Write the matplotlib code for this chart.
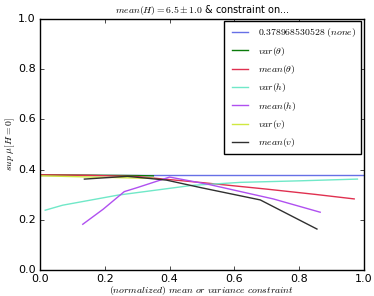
import matplotlib
matplotlib.use("Agg")
import matplotlib.pyplot as plt
import numpy as np

plt.style.use('classic')
plt.rcParams['figure.facecolor'] = 'white'
plt.rcParams['savefig.facecolor'] = 'white'
plt.rcParams['mathtext.fontset'] = 'cm'

none_value = 0.378968530528

# x = normalized constraint, y = sup mu[H=0]
none_x = [0.0, 1.0]
none_y = [none_value, none_value]

var_theta_x = [0.0, 0.1, 0.2, 0.3, 0.35]
var_theta_y = [0.379, 0.378, 0.377, 0.376, 0.375]

mean_theta_x = [0.0, 0.15, 0.3, 0.5, 0.7, 0.85, 0.97]
mean_theta_y = [0.379, 0.377, 0.372, 0.348, 0.322, 0.301, 0.283]

var_h_x = [0.016, 0.07, 0.24, 0.47, 0.62, 0.8, 0.98]
var_h_y = [0.238, 0.258, 0.298, 0.337, 0.349, 0.355, 0.362]

mean_h_x = [0.132, 0.195, 0.26, 0.30, 0.40, 0.52, 0.72, 0.865]
mean_h_y = [0.182, 0.242, 0.312, 0.328, 0.370, 0.341, 0.283, 0.230]

var_v_x = [0.0, 0.1, 0.2, 0.3, 0.35]
var_v_y = [0.375, 0.372, 0.369, 0.366, 0.365]

mean_v_x = [0.137, 0.27, 0.39, 0.5, 0.68, 0.855]
mean_v_y = [0.362, 0.373, 0.358, 0.327, 0.279, 0.163]

fig = plt.figure(figsize=(3.74, 2.96), dpi=100)
ax = fig.add_axes([0.107, 0.088, 0.866, 0.848])

ax.plot(none_x, none_y, color='#6670e6', lw=1, label=r'$0.378968530528\ (none)$')
ax.plot(var_theta_x, var_theta_y, color='#0a7a0a', lw=1, label=r'$var(\theta)$')
ax.plot(mean_theta_x, mean_theta_y, color='#e03050', lw=1, label=r'$mean(\theta)$')
ax.plot(var_h_x, var_h_y, color='#70e8c8', lw=1, label=r'$var(h)$')
ax.plot(mean_h_x, mean_h_y, color='#b050f0', lw=1, label=r'$mean(h)$')
ax.plot(var_v_x, var_v_y, color='#d0e840', lw=1, label=r'$var(v)$')
ax.plot(mean_v_x, mean_v_y, color='#303030', lw=1, label=r'$mean(v)$')

ax.set_xlim(0, 1)
ax.set_ylim(0, 1)
ax.set_xticks([0.0, 0.2, 0.4, 0.6, 0.8, 1.0])
ax.set_yticks([0.0, 0.2, 0.4, 0.6, 0.8, 1.0])
ax.tick_params(labelsize=8, length=3, pad=3)

ax.set_title(r'$mean(H) = 6.5 \pm 1.0$ & constraint on...', fontsize=7, pad=4)
ax.set_xlabel(r'$(normalized)\ mean\ or\ variance\ constraint$', fontsize=7, labelpad=0)
ax.set_ylabel(r'$sup\ \mu[H=0]$', fontsize=7, labelpad=1)

ax.legend(loc='upper right', fontsize=7, handlelength=2.2, labelspacing=0.55,
          borderpad=0.5, borderaxespad=0.25, fancybox=False)

fig.savefig('out.png', dpi=100)
